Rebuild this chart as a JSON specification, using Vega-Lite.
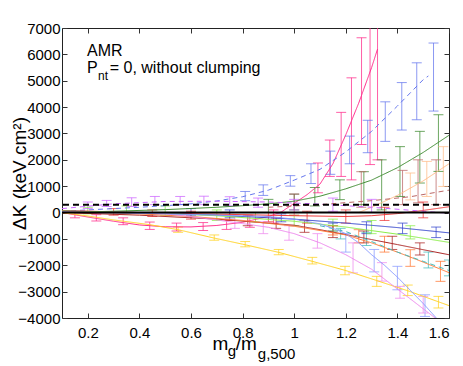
{
"$schema": "https://vega.github.io/schema/vega-lite/v6.json",
"width": 387, "height": 290,
"autosize": {"type": "none"},
"padding": {"left": 62, "top": 28, "right": 14, "bottom": 48},
"config": {
  "view": {"stroke": "#222", "strokeWidth": 1},
  "font": "Liberation Sans",
  "axis": {"grid": false, "domain": false, "labelFont": "Liberation Sans", "labelFontSize": 15, "labelColor": "#000", "tickColor": "#333", "tickSize": -5, "titleFont": "Liberation Sans", "titleColor": "#000", "titleFontWeight": "normal"}
},
"datasets": {
  "L": [
    {"s":"pink","x":0.1,"y":0},{"s":"pink","x":0.2,"y":-170},{"s":"pink","x":0.3,"y":-330},{"s":"pink","x":0.4,"y":-470},{"s":"pink","x":0.5,"y":-540},{"s":"pink","x":0.6,"y":-545},{"s":"pink","x":0.7,"y":-490},{"s":"pink","x":0.8,"y":-370},{"s":"pink","x":0.9,"y":-150},{"s":"pink","x":0.95,"y":20},{"s":"pink","x":1.0,"y":350},{"s":"pink","x":1.05,"y":680},{"s":"pink","x":1.1,"y":1080},{"s":"pink","x":1.15,"y":1850},{"s":"pink","x":1.2,"y":2950},{"s":"pink","x":1.25,"y":4150},{"s":"pink","x":1.3,"y":5500},{"s":"pink","x":1.323,"y":6200},
    {"s":"bluedash","x":0.1,"y":50},{"s":"bluedash","x":0.2,"y":100},{"s":"bluedash","x":0.3,"y":150},{"s":"bluedash","x":0.4,"y":200},{"s":"bluedash","x":0.5,"y":260},{"s":"bluedash","x":0.6,"y":330},{"s":"bluedash","x":0.7,"y":440},{"s":"bluedash","x":0.8,"y":600},{"s":"bluedash","x":0.9,"y":850},{"s":"bluedash","x":1.0,"y":1230},{"s":"bluedash","x":1.1,"y":1640},{"s":"bluedash","x":1.2,"y":2300},{"s":"bluedash","x":1.3,"y":3080},{"s":"bluedash","x":1.4,"y":4040},{"s":"bluedash","x":1.5,"y":5040},{"s":"bluedash","x":1.52,"y":5180},
    {"s":"green","x":0.1,"y":0},{"s":"green","x":0.3,"y":50},{"s":"green","x":0.5,"y":110},{"s":"green","x":0.7,"y":200},{"s":"green","x":0.8,"y":260},{"s":"green","x":0.9,"y":330},{"s":"green","x":1.0,"y":430},{"s":"green","x":1.1,"y":620},{"s":"green","x":1.2,"y":900},{"s":"green","x":1.3,"y":1230},{"s":"green","x":1.4,"y":1700},{"s":"green","x":1.5,"y":2280},{"s":"green","x":1.6,"y":2930},
    {"s":"peach","x":1.25,"y":0},{"s":"peach","x":1.3,"y":200},{"s":"peach","x":1.4,"y":650},{"s":"peach","x":1.5,"y":1200},{"s":"peach","x":1.6,"y":1850},
    {"s":"brown","x":0.9,"y":200},{"s":"brown","x":1.1,"y":300},{"s":"brown","x":1.3,"y":450},{"s":"brown","x":1.45,"y":600},{"s":"brown","x":1.6,"y":850},
    {"s":"red","x":0.1,"y":80},{"s":"red","x":0.4,"y":0},{"s":"red","x":0.7,"y":-60},{"s":"red","x":1.0,"y":-120},{"s":"red","x":1.2,"y":-150},{"s":"red","x":1.3,"y":-120},{"s":"red","x":1.4,"y":-40},{"s":"red","x":1.5,"y":80},{"s":"red","x":1.6,"y":220},
    {"s":"blue","x":0.1,"y":60},{"s":"blue","x":0.4,"y":0},{"s":"blue","x":0.7,"y":-100},{"s":"blue","x":1.0,"y":-250},{"s":"blue","x":1.2,"y":-400},{"s":"blue","x":1.4,"y":-570},{"s":"blue","x":1.6,"y":-770},
    {"s":"lgreen","x":0.1,"y":60},{"s":"lgreen","x":0.4,"y":0},{"s":"lgreen","x":0.7,"y":-120},{"s":"lgreen","x":1.0,"y":-330},{"s":"lgreen","x":1.2,"y":-550},{"s":"lgreen","x":1.4,"y":-820},{"s":"lgreen","x":1.6,"y":-1130},
    {"s":"dred","x":0.1,"y":0},{"s":"dred","x":0.4,"y":-100},{"s":"dred","x":0.7,"y":-250},{"s":"dred","x":1.0,"y":-480},{"s":"dred","x":1.1,"y":-650},{"s":"dred","x":1.2,"y":-835},{"s":"dred","x":1.3,"y":-1025},{"s":"dred","x":1.4,"y":-1215},{"s":"dred","x":1.5,"y":-1410},{"s":"dred","x":1.6,"y":-1600},
    {"s":"orange","x":0.1,"y":50},{"s":"orange","x":0.4,"y":-50},{"s":"orange","x":0.6,"y":-150},{"s":"orange","x":0.8,"y":-300},{"s":"orange","x":1.0,"y":-520},{"s":"orange","x":1.1,"y":-680},{"s":"orange","x":1.2,"y":-850},{"s":"orange","x":1.3,"y":-1150},{"s":"orange","x":1.4,"y":-1500},{"s":"orange","x":1.5,"y":-1880},{"s":"orange","x":1.6,"y":-2280},
    {"s":"teal","x":1.1,"y":-500},{"s":"teal","x":1.2,"y":-720},{"s":"teal","x":1.3,"y":-1100},{"s":"teal","x":1.4,"y":-1500},{"s":"teal","x":1.5,"y":-1850},{"s":"teal","x":1.6,"y":-2200},
    {"s":"yellow","x":0.1,"y":0},{"s":"yellow","x":0.2,"y":-130},{"s":"yellow","x":0.3,"y":-280},{"s":"yellow","x":0.44,"y":-460},{"s":"yellow","x":0.55,"y":-650},{"s":"yellow","x":0.686,"y":-960},{"s":"yellow","x":0.8,"y":-1200},{"s":"yellow","x":0.94,"y":-1510},{"s":"yellow","x":1.07,"y":-1850},{"s":"yellow","x":1.2,"y":-2200},{"s":"yellow","x":1.32,"y":-2580},{"s":"yellow","x":1.45,"y":-3000},{"s":"yellow","x":1.6,"y":-3530},
    {"s":"violet","x":0.1,"y":0},{"s":"violet","x":0.3,"y":0},{"s":"violet","x":0.5,"y":-50},{"s":"violet","x":0.6,"y":-150},{"s":"violet","x":0.7,"y":-280},{"s":"violet","x":0.8,"y":-420},{"s":"violet","x":0.9,"y":-560},{"s":"violet","x":1.0,"y":-800},{"s":"violet","x":1.1,"y":-1150},{"s":"violet","x":1.2,"y":-1600},{"s":"violet","x":1.3,"y":-2150},{"s":"violet","x":1.4,"y":-2900},{"s":"violet","x":1.5,"y":-3650},{"s":"violet","x":1.56,"y":-4100},
    {"s":"lblue","x":0.1,"y":30},{"s":"lblue","x":0.5,"y":-50},{"s":"lblue","x":0.9,"y":-150},{"s":"lblue","x":1.0,"y":-250},{"s":"lblue","x":1.1,"y":-430},{"s":"lblue","x":1.15,"y":-600},{"s":"lblue","x":1.2,"y":-800},{"s":"lblue","x":1.25,"y":-1150},{"s":"lblue","x":1.3,"y":-1600},{"s":"lblue","x":1.35,"y":-2000},{"s":"lblue","x":1.4,"y":-2450},{"s":"lblue","x":1.45,"y":-2950},{"s":"lblue","x":1.5,"y":-3450},{"s":"lblue","x":1.56,"y":-4100},
    {"s":"purple","x":0.1,"y":150},{"s":"purple","x":0.3,"y":330},{"s":"purple","x":0.5,"y":420},{"s":"purple","x":0.7,"y":430},{"s":"purple","x":0.9,"y":400},{"s":"purple","x":1.1,"y":320},{"s":"purple","x":1.3,"y":200},{"s":"purple","x":1.5,"y":50},{"s":"purple","x":1.6,"y":-30}
  ],
  "B": [
    {"s":"pink","x":0.15,"lo":-200,"hi":0},{"s":"pink","x":0.233,"lo":-320,"hi":-80},{"s":"pink","x":0.337,"lo":-460,"hi":-200},{"s":"pink","x":0.44,"lo":-640,"hi":-360},{"s":"pink","x":0.544,"lo":-700,"hi":-400},{"s":"pink","x":0.647,"lo":-680,"hi":-380},{"s":"pink","x":0.738,"lo":-640,"hi":-280},{"s":"pink","x":0.828,"lo":-560,"hi":-120},{"s":"pink","x":0.92,"lo":-400,"hi":100},{"s":"pink","x":1.0,"lo":-100,"hi":700},{"s":"pink","x":1.092,"lo":750,"hi":1880},{"s":"pink","x":1.138,"lo":1370,"hi":2750},{"s":"pink","x":1.182,"lo":1370,"hi":3800},{"s":"pink","x":1.222,"lo":1240,"hi":5110},{"s":"pink","x":1.261,"lo":2580,"hi":6630},{"s":"pink","x":1.294,"lo":1820,"hi":7200},{"s":"pink","x":1.323,"lo":2000,"hi":7200},
    {"s":"bluedash","x":0.81,"lo":450,"hi":800},{"s":"bluedash","x":0.88,"lo":650,"hi":1050},{"s":"bluedash","x":0.985,"lo":1000,"hi":1400},{"s":"bluedash","x":1.065,"lo":1100,"hi":1850},{"s":"bluedash","x":1.14,"lo":1450,"hi":2330},{"s":"bluedash","x":1.215,"lo":1850,"hi":2900},{"s":"bluedash","x":1.285,"lo":2270,"hi":3500},{"s":"bluedash","x":1.353,"lo":2700,"hi":4200},{"s":"bluedash","x":1.417,"lo":3130,"hi":4930},{"s":"bluedash","x":1.475,"lo":3520,"hi":5680},{"s":"bluedash","x":1.54,"lo":3850,"hi":6430},
    {"s":"green","x":0.9,"lo":0,"hi":500},{"s":"green","x":1.0,"lo":100,"hi":700},{"s":"green","x":1.08,"lo":250,"hi":950},{"s":"green","x":1.177,"lo":490,"hi":1240},{"s":"green","x":1.27,"lo":300,"hi":1550},{"s":"green","x":1.339,"lo":100,"hi":2000},{"s":"green","x":1.41,"lo":610,"hi":2500},{"s":"green","x":1.487,"lo":1120,"hi":3080},{"s":"green","x":1.559,"lo":1560,"hi":3710},
    {"s":"peach","x":1.45,"lo":480,"hi":1500},{"s":"peach","x":1.514,"lo":610,"hi":1940},{"s":"peach","x":1.578,"lo":990,"hi":2500},
    {"s":"brown","x":1.26,"lo":200,"hi":1550},{"s":"brown","x":1.42,"lo":300,"hi":1600},{"s":"brown","x":1.48,"lo":370,"hi":2000},{"s":"brown","x":1.55,"lo":300,"hi":2000},
    {"s":"red","x":0.3,"lo":-100,"hi":150},{"s":"red","x":0.45,"lo":-150,"hi":100},{"s":"red","x":0.6,"lo":-250,"hi":50},{"s":"red","x":0.75,"lo":-300,"hi":0},{"s":"red","x":0.9,"lo":-350,"hi":0},{"s":"red","x":1.05,"lo":-400,"hi":50},{"s":"red","x":1.2,"lo":-400,"hi":100},{"s":"red","x":1.35,"lo":-300,"hi":200},{"s":"red","x":1.5,"lo":-200,"hi":400},
    {"s":"blue","x":0.6,"lo":-100,"hi":150},{"s":"blue","x":0.75,"lo":-200,"hi":100},{"s":"blue","x":0.95,"lo":-350,"hi":-50},{"s":"blue","x":1.15,"lo":-700,"hi":-400},{"s":"blue","x":1.28,"lo":-800,"hi":-350},{"s":"blue","x":1.42,"lo":-800,"hi":-400},{"s":"blue","x":1.55,"lo":-950,"hi":-550},
    {"s":"lgreen","x":0.2,"lo":-50,"hi":200},{"s":"lgreen","x":0.35,"lo":-50,"hi":250},{"s":"lgreen","x":0.5,"lo":-100,"hi":250},{"s":"lgreen","x":0.7,"lo":-300,"hi":100},{"s":"lgreen","x":0.85,"lo":-350,"hi":0},{"s":"lgreen","x":1.0,"lo":-500,"hi":-100},{"s":"lgreen","x":1.15,"lo":-700,"hi":-250},{"s":"lgreen","x":1.3,"lo":-800,"hi":-300},{"s":"lgreen","x":1.45,"lo":-1000,"hi":-500},
    {"s":"dred","x":0.82,"lo":-500,"hi":-100},{"s":"dred","x":0.93,"lo":-600,"hi":-200},{"s":"dred","x":1.04,"lo":-750,"hi":-300},{"s":"dred","x":1.15,"lo":-950,"hi":-500},{"s":"dred","x":1.27,"lo":-1150,"hi":-700},{"s":"dred","x":1.38,"lo":-1400,"hi":-900},{"s":"dred","x":1.487,"lo":-1610,"hi":-1150},
    {"s":"orange","x":1.15,"lo":-850,"hi":-500},{"s":"orange","x":1.25,"lo":-1150,"hi":-650},{"s":"orange","x":1.35,"lo":-1500,"hi":-900},{"s":"orange","x":1.45,"lo":-2040,"hi":-1410},{"s":"orange","x":1.567,"lo":-2610,"hi":-1850},
    {"s":"teal","x":1.18,"lo":-1000,"hi":-600},{"s":"teal","x":1.28,"lo":-1250,"hi":-750},{"s":"teal","x":1.52,"lo":-2100,"hi":-1500},{"s":"teal","x":1.6,"lo":-2400,"hi":-1800},
    {"s":"yellow","x":0.55,"lo":-750,"hi":-550},{"s":"yellow","x":0.69,"lo":-1050,"hi":-850},{"s":"yellow","x":0.81,"lo":-1300,"hi":-1100},{"s":"yellow","x":0.94,"lo":-1600,"hi":-1400},{"s":"yellow","x":1.07,"lo":-1950,"hi":-1700},{"s":"yellow","x":1.197,"lo":-2360,"hi":-2040},{"s":"yellow","x":1.32,"lo":-2800,"hi":-2420},{"s":"yellow","x":1.44,"lo":-3150,"hi":-2750},{"s":"yellow","x":1.559,"lo":-3620,"hi":-3180},
    {"s":"violet","x":0.77,"lo":-600,"hi":-150},{"s":"violet","x":0.88,"lo":-800,"hi":-350},{"s":"violet","x":0.98,"lo":-1050,"hi":-500},{"s":"violet","x":1.09,"lo":-1350,"hi":-800},{"s":"violet","x":1.228,"lo":-2290,"hi":-1150},{"s":"violet","x":1.34,"lo":-2600,"hi":-1900},{"s":"violet","x":1.41,"lo":-3250,"hi":-2800},{"s":"violet","x":1.5,"lo":-3810,"hi":-3180},
    {"s":"lblue","x":1.2,"lo":-1500,"hi":-800},{"s":"lblue","x":1.31,"lo":-2250,"hi":-1400},{"s":"lblue","x":1.4,"lo":-2930,"hi":-2040},{"s":"lblue","x":1.507,"lo":-3940,"hi":-3120},
    {"s":"purple","x":0.2,"lo":150,"hi":400},{"s":"purple","x":0.273,"lo":230,"hi":460},{"s":"purple","x":0.37,"lo":230,"hi":560},{"s":"purple","x":0.46,"lo":300,"hi":610},{"s":"purple","x":0.558,"lo":300,"hi":610},{"s":"purple","x":0.65,"lo":300,"hi":620},{"s":"purple","x":0.75,"lo":250,"hi":600},{"s":"purple","x":0.86,"lo":200,"hi":550},{"s":"purple","x":1.0,"lo":100,"hi":500},{"s":"purple","x":1.15,"lo":50,"hi":550},{"s":"purple","x":1.3,"lo":0,"hi":500}
  ]
},
"layer": [
  {
    "data": {"name": "B"},
    "mark": {"type": "rule", "strokeWidth": 1, "opacity": 0.75, "clip": true},
    "encoding": {
      "x": {"field": "x", "type": "quantitative", "scale": {"domain": [0.1, 1.6], "nice": false, "zero": false}, "axis": null},
      "y": {"field": "lo", "type": "quantitative", "scale": {"domain": [-4000, 7000], "nice": false, "zero": false}, "axis": null},
      "y2": {"field": "hi"},
      "color": {"field": "s", "type": "nominal", "legend": null,
        "scale": {"domain": ["pink","bluedash","green","peach","brown","red","blue","lgreen","dred","orange","teal","yellow","violet","lblue","purple"],
                  "range": ["#ff2a8a","#6677ee","#3c8a2e","#ffbb88","#bb6666","#ee3333","#3344cc","#88ee44","#aa2222","#ff7733","#44bbbb","#ffd21f","#ee88ee","#8899ff","#cc66ff"]}}
    }
  },
  {
    "data": {"name": "B"},
    "transform": [{"fold": ["lo", "hi"], "as": ["k", "v"]}],
    "mark": {"type": "tick", "orient": "horizontal", "size": 10, "thickness": 1, "opacity": 0.75, "clip": true},
    "encoding": {
      "x": {"field": "x", "type": "quantitative", "scale": {"domain": [0.1, 1.6], "nice": false, "zero": false},
            "axis": {"orient": "top", "labels": false, "title": null, "values": [0.2,0.4,0.6,0.8,1,1.2,1.4,1.6]}},
      "y": {"field": "v", "type": "quantitative", "scale": {"domain": [-4000, 7000], "nice": false, "zero": false},
            "axis": {"orient": "right", "labels": false, "title": null, "values": [-4000,-3000,-2000,-1000,0,1000,2000,3000,4000,5000,6000,7000]}},
      "color": {"field": "s", "type": "nominal", "legend": null}
    }
  },
  {
    "data": {"name": "L"},
    "mark": {"type": "line", "strokeWidth": 1, "clip": true},
    "encoding": {
      "x": {"field": "x", "type": "quantitative", "scale": {"domain": [0.1, 1.6], "nice": false, "zero": false},
            "axis": {"orient": "bottom", "title": null, "values": [0.2,0.4,0.6,0.8,1,1.2,1.4,1.6], "format": "~g", "labelPadding": 12}},
      "y": {"field": "y", "type": "quantitative", "scale": {"domain": [-4000, 7000], "nice": false, "zero": false},
            "axis": {"orient": "left", "title": "ΔK (keV cm²)", "titleFontSize": 19, "titlePadding": -12, "values": [-4000,-3000,-2000,-1000,0,1000,2000,3000,4000,5000,6000,7000], "format": "d", "labelPadding": 7}},
      "color": {"field": "s", "type": "nominal", "legend": null},
      "strokeDash": {"field": "s", "type": "nominal", "legend": null,
        "scale": {"domain": ["pink","bluedash","green","peach","brown","red","blue","lgreen","dred","orange","teal","yellow","violet","lblue","purple"],
                  "range": [[1,0],[5,4],[1,0],[1,0],[5,4],[1,0],[1,0],[1,0],[1,0],[1,0],[5,4],[1,0],[1,0],[1,0],[5,4]]}},
      "order": {"field": "x", "type": "quantitative"}
    }
  },
  {
    "data": {"values": [{"y": 300}]},
    "mark": {"type": "rule", "color": "#000", "strokeWidth": 2, "strokeDash": [6, 4]},
    "encoding": {"y": {"field": "y", "type": "quantitative", "scale": {"domain": [-4000, 7000], "nice": false, "zero": false}, "axis": null}}
  },
  {
    "data": {"values": [{"y": 0}]},
    "mark": {"type": "rule", "color": "#000", "strokeWidth": 2},
    "encoding": {"y": {"field": "y", "type": "quantitative", "scale": {"domain": [-4000, 7000], "nice": false, "zero": false}, "axis": null}}
  },
  {
    "data": {"values": [{"x": 0.197, "y": 5923, "t": "AMR"}, {"x": 0.197, "y": 5293, "t": "P"}, {"x": 0.285, "y": 5293, "t": "= 0, without clumping"}]},
    "mark": {"type": "text", "align": "left", "baseline": "alphabetic", "fontSize": 16, "font": "Liberation Sans", "color": "#000"},
    "encoding": {
      "x": {"field": "x", "type": "quantitative", "scale": {"domain": [0.1, 1.6], "nice": false, "zero": false}, "axis": null},
      "y": {"field": "y", "type": "quantitative", "scale": {"domain": [-4000, 7000], "nice": false, "zero": false}, "axis": null},
      "text": {"field": "t"}
    }
  },
  {
    "data": {"values": [{"x": 0.2397, "y": 5012, "t": "nt"}]},
    "mark": {"type": "text", "align": "left", "baseline": "alphabetic", "fontSize": 12, "font": "Liberation Sans", "color": "#000"},
    "encoding": {
      "x": {"field": "x", "type": "quantitative", "axis": null},
      "y": {"field": "y", "type": "quantitative", "axis": null},
      "text": {"field": "t"}
    }
  },
  {
    "data": {"values": [{"x": 0.6834, "y": -5204, "t": "m"}, {"x": 0.7738, "y": -5204, "t": "/m"}]},
    "mark": {"type": "text", "align": "left", "baseline": "alphabetic", "fontSize": 19, "font": "Liberation Sans", "color": "#000"},
    "encoding": {
      "x": {"field": "x", "type": "quantitative", "axis": null},
      "y": {"field": "y", "type": "quantitative", "axis": null},
      "text": {"field": "t"}
    }
  },
  {
    "data": {"values": [{"x": 0.7428, "y": -5432, "t": "g"}, {"x": 0.859, "y": -5545, "t": "g,500"}]},
    "mark": {"type": "text", "align": "left", "baseline": "alphabetic", "fontSize": 15, "font": "Liberation Sans", "color": "#000"},
    "encoding": {
      "x": {"field": "x", "type": "quantitative", "axis": null},
      "y": {"field": "y", "type": "quantitative", "axis": null},
      "text": {"field": "t"}
    }
  }
],
"resolve": {"axis": {"x": "independent", "y": "independent"}}
}
